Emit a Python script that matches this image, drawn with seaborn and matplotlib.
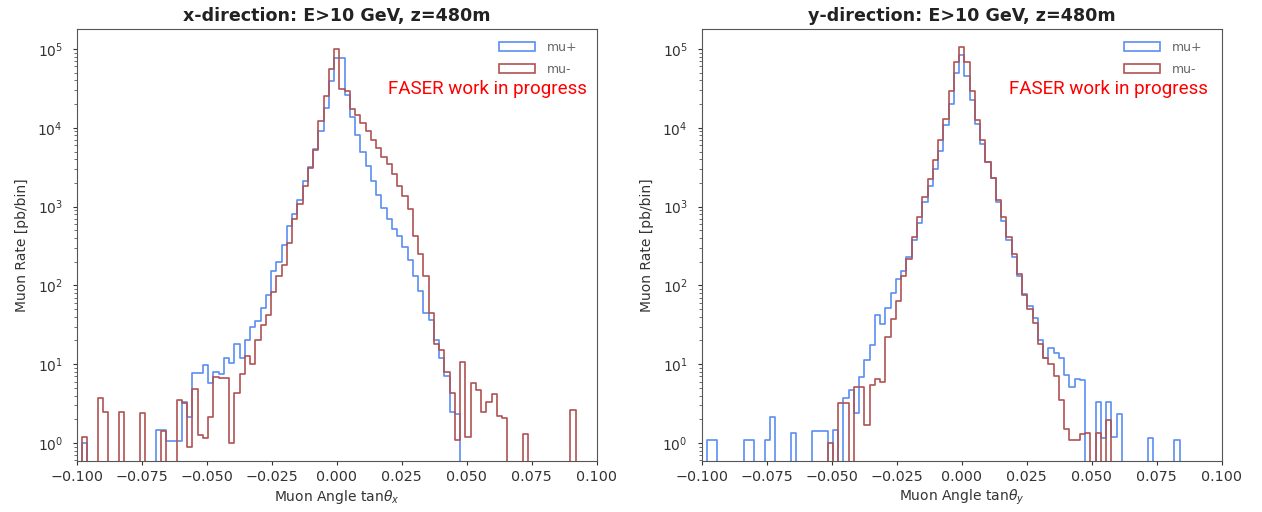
import numpy as np
import pandas as pd
import matplotlib
matplotlib.use("Agg")
import matplotlib.pyplot as plt
import matplotlib.patches as mpatches
import seaborn as sns

# ---- binning (99 bins between -0.1 and 0.1) ----
bin_edges = np.linspace(-0.1, 0.1, 100)
bin_centers = 0.5 * (bin_edges[:-1] + bin_edges[1:])

# ---- x-direction, mu+ (pb/bin) ----
x_mu_plus = [
    0, 1.0, 0, 0, 0, 0, 0, 0, 0, 0,
    0, 0, 0, 0, 0, 1.46, 1.46, 1.07, 1.07, 1.07,
    3.3, 2.15, 7.8, 7.8, 9.7, 5.7, 8.0, 7.6, 11.8, 10.2,
    18, 12, 20, 30, 35, 52, 75, 150, 200, 330,
    560, 800, 1200, 2100, 3200, 5400, 9200, 18000, 39000, 76000,
    76000, 26000, 13600, 8000, 5000, 3300, 2100, 1400, 950, 700,
    520, 420, 310, 210, 130, 86, 45, 36, 20, 12,
    7, 2.5, 2.3, 0, 0, 0, 0, 0, 0, 0,
    0, 0, 0, 0, 0, 0, 0, 0, 0, 0,
    0, 0, 0, 0, 0, 0, 0, 0, 0,
]
# ---- x-direction, mu- ----
x_mu_minus = [
    0, 1.2, 0, 0, 3.7, 2.5, 0, 0, 2.5, 0,
    0, 0, 2.4, 0, 0, 0, 1.4, 0, 0, 3.5,
    3.2, 0.9, 4.8, 1.26, 1.15, 2.15, 6.9, 6.6, 6.6, 1.0,
    4.25, 7.6, 12.6, 10, 20, 31, 42, 82, 130, 180,
    340, 700, 1090, 1850, 3050, 5300, 12300, 25500, 55000, 100000,
    31000, 29000, 17500, 14600, 11500, 9200, 7000, 5600, 4300, 3500,
    2600, 1850, 1350, 940, 420, 250, 130, 45, 18, 15,
    8, 4.3, 1.1, 10.7, 1.2, 5.7, 4.7, 2.5, 3.3, 4.2,
    2.2, 2.1, 0, 0, 0, 1.3, 0, 0, 0, 0,
    0, 0, 0, 0, 2.6, 0, 0, 0, 0,
]
# ---- y-direction, mu+ ----
y_mu_plus = [
    0, 1.1, 1.1, 0, 0, 0, 0, 0, 1.1, 1.1,
    0, 0, 1.1, 2.15, 0, 0, 0, 1.35, 0, 0,
    0, 1.4, 1.4, 1.4, 0, 1.46, 0, 3.7, 4.7, 2.4,
    6.9, 11.2, 17.4, 42, 32, 52, 80, 120, 150, 230,
    380, 620, 1150, 1800, 3000, 5100, 11000, 20000, 50000, 85000,
    46000, 22500, 11200, 6300, 3700, 2300, 1150, 650, 380, 230,
    130, 78, 55, 38, 20, 12, 16, 14, 12, 7.2,
    5.2, 6.5, 6.3, 0, 0, 3.3, 1.15, 3.3, 1.2, 2.3,
    0, 0, 0, 0, 0, 1.15, 0, 0, 0, 0,
    1.1, 0, 0, 0, 0, 0, 0, 0, 0,
]
# ---- y-direction, mu- ----
y_mu_minus = [
    0, 0, 0, 0, 0, 0, 0, 0, 0, 0,
    0, 0, 0, 0, 0, 0, 0, 0, 0, 0,
    0, 0, 0, 0, 1.0, 0, 3.2, 3.2, 0, 5.2,
    5.2, 1.7, 5.5, 6.5, 6, 22, 37, 63, 130, 219,
    415, 740, 1330, 2250, 3870, 6900, 13000, 29700, 68000, 105000,
    68000, 29700, 12700, 7000, 3700, 2300, 1200, 740, 410, 250,
    140, 75, 50, 33, 18, 12, 10, 7, 3.5, 1.5,
    1.1, 1.1, 1.3, 1.35, 0, 1.35, 0, 1.95, 0, 0,
    0, 0, 0, 0, 0, 0, 0, 0, 0, 0,
    0, 0, 0, 0, 0, 0, 0, 0, 0,
]

series_labels = ["mu+", "mu-"]
titles = ["x-direction: E>10 GeV, z=480m", "y-direction: E>10 GeV, z=480m"]
xlabels = [r"Muon Angle tan$\theta_x$", r"Muon Angle tan$\theta_y$"]
ylabel = "Muon Rate [pb/bin]"
xticks = [-0.100, -0.075, -0.050, -0.025, 0.000, 0.025, 0.050, 0.075, 0.100]
watermark = "FASER work in progress"

c_plus = "#5a8ef2"
c_minus = "#b05252"

plt.rcParams["font.family"] = ["DejaVu Sans"]
plt.rcParams["font.size"] = 10

fig = plt.figure(figsize=(12.62, 5.12), dpi=100)
ax_l = fig.add_axes([0.0608, 0.0996, 0.412, 0.844])
ax_r = fig.add_axes([0.5560, 0.0996, 0.412, 0.844])

panels = [
    (ax_l, x_mu_plus, x_mu_minus, titles[0], xlabels[0], 0.981),
    (ax_r, y_mu_plus, y_mu_minus, titles[1], xlabels[1], 0.974),
]

edge_list = [float(e) for e in bin_edges]

for ax, vp, vm, title, xlabel, tx in panels:
    for vals, col in ((vp, c_plus), (vm, c_minus)):
        df = pd.DataFrame({"angle": bin_centers, "rate": np.asarray(vals, float)})
        sns.histplot(data=df, x="angle", weights="rate", bins=edge_list,
                     element="step", fill=False, color=col, linewidth=1.2, ax=ax)
    ax.set_yscale("log")
    ax.set_xlim(-0.1, 0.1)
    ax.set_ylim(0.59, 1.8e5)
    ax.set_xticks(xticks)
    ax.set_title(title, fontsize=12.6, fontweight="bold", color="#222222", pad=6)
    ax.set_xlabel(xlabel, fontsize=10, color="#333333", labelpad=3)
    ax.set_ylabel(ylabel, fontsize=10, color="#333333", labelpad=6)
    ax.tick_params(axis="x", colors="#333333", labelsize=10.3, length=3)
    ax.tick_params(axis="y", which="major", colors="#333333", labelsize=10, length=3, pad=7)
    ax.tick_params(axis="y", which="minor", colors="#555555", length=2)
    for s in ax.spines.values():
        s.set_color("#555555")
    handles = [mpatches.Patch(facecolor="none", edgecolor=c_plus, linewidth=1.2),
               mpatches.Patch(facecolor="none", edgecolor=c_minus, linewidth=1.2)]
    ax.legend(handles, series_labels, loc="upper right", bbox_to_anchor=(0.9737, 0.984),
              frameon=False, fontsize=9, handlelength=2.9, handleheight=0.7,
              handletextpad=1.0, labelspacing=0.75, labelcolor="#666666",
              borderaxespad=0.0)
    ax.text(tx, 0.862, watermark, transform=ax.transAxes, ha="right", va="center",
            color="#ff0000", fontsize=13.5, family=["Roboto", "DejaVu Sans"])

fig.savefig("out.png", dpi=100)
